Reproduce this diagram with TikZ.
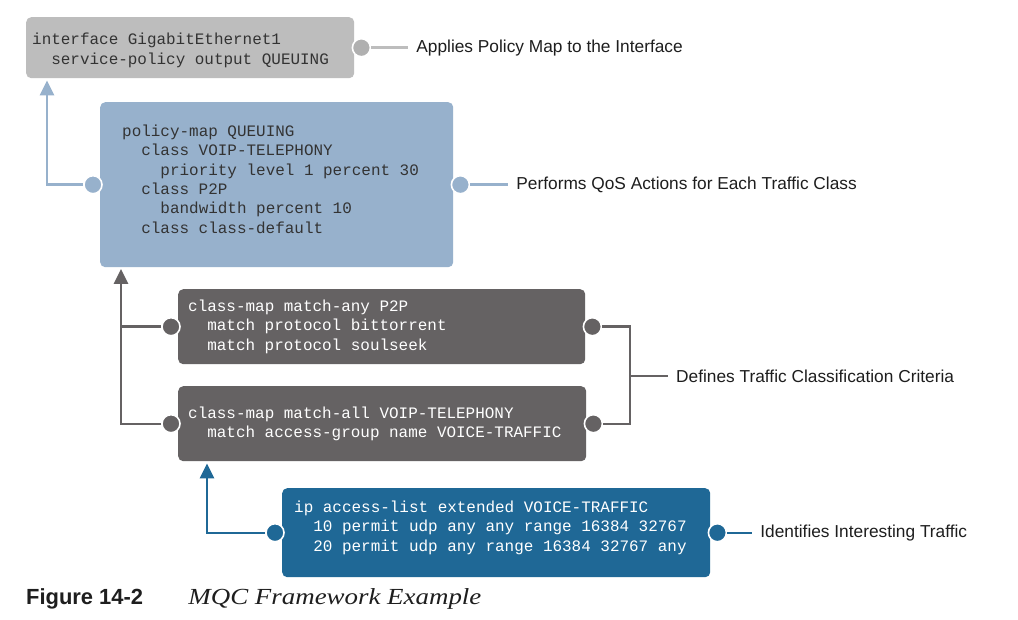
\documentclass[tikz,border=0pt]{standalone}
\usepackage{fontspec}
\usetikzlibrary{arrows.meta, positioning}
\newfontfamily\cfgfont{Liberation Mono}
\newfontfamily\lblfont{Liberation Sans}
\newfontfamily\capfont[FakeStretch=1.17]{Liberation Serif}
\definecolor{ifcgray}{HTML}{BDBDBD}
\definecolor{ifcdot}{HTML}{B0B0B0}
\definecolor{pmblue}{HTML}{97B1CC}
\definecolor{cmgray}{HTML}{656263}
\definecolor{aclblue}{HTML}{1F6896}
\definecolor{cfgtext}{HTML}{333333}
\definecolor{lbltext}{HTML}{1E1E1E}
\newcommand\cfgind{\hphantom{xx}}

\begin{document}
\begin{tikzpicture}[x=1pt,y=-1pt,
    cfg/.style={anchor=north west,rounded corners=5pt,align=left,
                inner ysep=0pt,font=\cfgfont\fontsize{15.95}{19.3}\selectfont,
                execute at begin node={\spaceskip=0.6em\xspaceskip=0.6em\relax}},
    port/.style={circle,fill=#1,draw=white,line width=1.6pt,
                 minimum size=18pt,inner sep=0pt},
    wire/.style={draw=#1,line width=2.4pt},
    tip/.style={-{Triangle[length=15pt,width=14pt]}},
    lbl/.style={inner xsep=0pt,text=lbltext,
                font=\lblfont\fontsize{17.3}{20}\selectfont}]
  \fill[white] (0,0) rectangle (1018,620);
  \useasboundingbox (0,0) rectangle (1018,620);
  % config blocks
  \node[cfg,fill=ifcgray,text=cfgtext,inner xsep=6pt,text width=316pt,
        minimum height=61pt] (ifc) at (26,17)
    {\mbox{}\\[-2.3pt]
     interface GigabitEthernet1\\
     \cfgind service-policy output QUEUING};
  \node[cfg,fill=pmblue,text=cfgtext,inner xsep=22pt,text width=309pt,
        minimum height=165pt] (pm) at (100,102)
    {policy-map QUEUING\\
     \cfgind class VOIP-TELEPHONY\\
     \cfgind\cfgind priority level 1 percent 30\\
     \cfgind class P2P\\
     \cfgind\cfgind bandwidth percent 10\\
     \cfgind class class-default\\[-8pt]\mbox{}};
  \node[cfg,fill=cmgray,text=white,inner xsep=10pt,text width=387pt,
        minimum height=75pt] (p2p) at (178,289)
    {class-map match-any P2P\\
     \cfgind match protocol bittorrent\\
     \cfgind match protocol soulseek};
  \node[cfg,fill=cmgray,text=white,inner xsep=10pt,text width=388pt,
        minimum height=75pt] (vc) at (178,386)
    {class-map match-all VOIP-TELEPHONY\\
     \cfgind match access-group name VOICE-TRAFFIC};
  \node[cfg,fill=aclblue,text=white,inner xsep=12pt,text width=404pt,
        minimum height=89pt] (acl) at (282,488)
    {ip access-list extended VOICE-TRAFFIC\\
     \cfgind 10 permit udp any any range 16384 32767\\
     \cfgind 20 permit udp any range 16384 32767 any\\[-6pt]\mbox{}};
  % ports
  \node[port=ifcdot] (ifcR) at ([xshift=7pt]ifc.east) {};
  \node[port=pmblue] (pmL) at ([xshift=-7pt]pm.west) {};
  \node[port=pmblue] (pmR) at ([xshift=7pt]pm.east) {};
  \node[port=cmgray] (p2pL) at ([xshift=-7pt]p2p.west) {};
  \node[port=cmgray] (p2pR) at ([xshift=7pt]p2p.east) {};
  \node[port=cmgray] (vcL) at ([xshift=-7pt]vc.west) {};
  \node[port=cmgray] (vcR) at ([xshift=7pt]vc.east) {};
  \node[port=aclblue] (aclL) at ([xshift=-7pt]acl.west) {};
  \node[port=aclblue] (aclR) at ([xshift=7pt]acl.east) {};
  % labels
  \node[lbl,right=45pt of ifcR] (lblifc) {Applies Policy Map to the Interface};
  \node[lbl,right=46pt of pmR] (lblpm) {Performs QoS Actions for Each Traffic Class};
  \coordinate (brk) at (630,376);
  \node[lbl,right=46pt of brk] (lblcm) {Defines Traffic Classification Criteria};
  \node[lbl,right=33pt of aclR] (lblacl) {Identifies Interesting Traffic};
  % arrow targets
  \coordinate (ifcin) at ([xshift=21pt,yshift=-2pt]ifc.south west);
  \coordinate (pmin) at ([xshift=21pt,yshift=-1.5pt]pm.south west);
  \coordinate (vcin) at ([xshift=29pt,yshift=-2pt]vc.south west);
  % connectors
  \draw[wire=pmblue,tip] (pmL.west) -| (ifcin);
  \draw[wire=cmgray,tip] (vcL.west) -| (pmin);
  \draw[wire=cmgray] (p2pL.west) -- (p2pL.west -| pmin);
  \draw[wire=aclblue,tip] (aclL.west) -| (vcin);
  \draw[wire=ifcgray] (ifcR.east) -- ([xshift=-8pt]lblifc.west);
  \draw[wire=pmblue] (pmR.east) -- ([xshift=-8pt]lblpm.west);
  \draw[wire=cmgray] (p2pR.east) -| (brk) |- (vcR.east);
  \draw[wire=cmgray] (brk) -- ([xshift=-8pt]lblcm.west);
  \draw[wire=aclblue] (aclR.east) -- ([xshift=-8pt]lblacl.west);
  % caption
  \node[anchor=west,inner sep=0pt,text=lbltext,
        font=\lblfont\bfseries\fontsize{21.9}{26}\selectfont] (fig) at (26,599)
    {Figure 14-2};
  \node[anchor=base west,inner sep=0pt,text=lbltext,
        font=\capfont\itshape\fontsize{23}{27}\selectfont] (figtitle)
    at ([xshift=45pt]fig.base east) {MQC Framework Example};
\end{tikzpicture}
\end{document}
